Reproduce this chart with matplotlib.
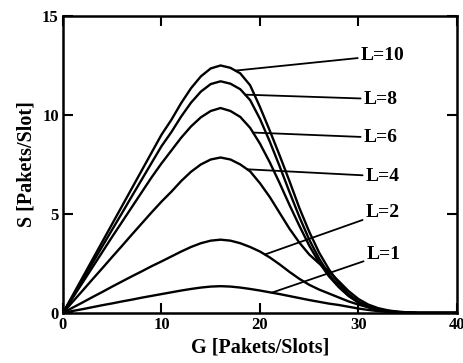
import numpy as np
import matplotlib
matplotlib.use("Agg")
import matplotlib.pyplot as plt

# offered load G [Pakets/Slots]
G = [0, 1, 2, 3, 4, 5, 6, 7, 8, 9, 10, 11, 12, 13, 14, 15, 16, 17, 18, 19,
     20, 21, 22, 23, 24, 25, 26, 27, 28, 29, 30, 31, 32, 33, 34, 35, 36, 38, 40]

# throughput S for each L
S_L1 = [0, 0.10, 0.19, 0.29, 0.39, 0.48, 0.58, 0.67, 0.77, 0.86, 0.95, 1.04, 1.13,
        1.21, 1.28, 1.33, 1.35, 1.33, 1.28, 1.21, 1.13, 1.04, 0.95, 0.85, 0.75,
        0.65, 0.56, 0.47, 0.40, 0.31, 0.22, 0.15, 0.09, 0.05, 0.03, 0.01, 0, 0, 0]
S_L2 = [0, 0.27, 0.53, 0.80, 1.06, 1.33, 1.59, 1.85, 2.10, 2.36, 2.60, 2.85, 3.10,
        3.33, 3.52, 3.65, 3.70, 3.65, 3.52, 3.33, 3.10, 2.80, 2.45, 2.07, 1.72,
        1.42, 1.18, 0.98, 0.78, 0.58, 0.42, 0.28, 0.18, 0.10, 0.05, 0.02, 0, 0, 0]
S_L4 = [0, 0.57, 1.13, 1.70, 2.26, 2.83, 3.39, 3.96, 4.52, 5.08, 5.62, 6.12, 6.66,
        7.13, 7.50, 7.75, 7.85, 7.75, 7.50, 7.15, 6.55, 5.85, 5.05, 4.25, 3.55,
        2.95, 2.50, 2.10, 1.60, 1.10, 0.70, 0.42, 0.24, 0.13, 0.06, 0.03, 0, 0, 0]
S_L6 = [0, 0.77, 1.54, 2.31, 3.08, 3.85, 4.60, 5.35, 6.10, 6.85, 7.55, 8.20, 8.85,
        9.42, 9.88, 10.20, 10.35, 10.20, 9.90, 9.35, 8.55, 7.60, 6.55, 5.45, 4.40,
        3.40, 2.55, 1.85, 1.30, 0.85, 0.52, 0.30, 0.16, 0.08, 0.04, 0.02, 0, 0, 0]
S_L8 = [0, 0.84, 1.68, 2.52, 3.37, 4.21, 5.05, 5.90, 6.74, 7.58, 8.42, 9.13, 9.92,
        10.62, 11.18, 11.56, 11.70, 11.58, 11.30, 10.75, 9.80, 8.65, 7.40, 6.10,
        4.85, 3.70, 2.75, 1.95, 1.35, 0.88, 0.53, 0.30, 0.16, 0.08, 0.04, 0.02, 0, 0, 0]
S_L10 = [0, 0.90, 1.80, 2.70, 3.60, 4.50, 5.40, 6.30, 7.20, 8.10, 9.00, 9.75, 10.60,
         11.35, 11.95, 12.35, 12.50, 12.38, 12.10, 11.50, 10.40, 9.20, 7.95, 6.65,
         5.30, 4.10, 3.05, 2.20, 1.50, 0.95, 0.57, 0.32, 0.17, 0.09, 0.04, 0.02, 0, 0, 0]

labels = ["L=1", "L=2", "L=4", "L=6", "L=8", "L=10"]
series = [S_L1, S_L2, S_L4, S_L6, S_L8, S_L10]
# where each leader line touches its curve (G) and where its label sits (G, S)
leader_G = [21.2, 20.5, 18.7, 19.3, 18.5, 17.5]
label_pos = [(30.8, 2.95), (30.7, 5.05), (30.7, 6.9), (30.5, 8.85), (30.5, 10.8), (30.2, 13.0)]

plt.rcParams["font.family"] = ["Liberation Serif", "DejaVu Serif"]
plt.rcParams["font.weight"] = "bold"

fig = plt.figure(figsize=(4.63, 3.63), dpi=100)
ax = fig.add_axes([0.136, 0.138, 0.851, 0.818])

for s in series:
    ax.plot(G, s, color="black", lw=1.7, solid_joinstyle="round")

for lab, s, gx, (tx, ty) in zip(labels, series, leader_G, label_pos):
    sy = np.interp(gx, G, s)
    ax.annotate(lab, xy=(gx, sy), xytext=(tx, ty), fontsize=14, fontweight="bold",
                va="center", ha="left",
                arrowprops=dict(arrowstyle="-", color="black", lw=1.3,
                                shrinkA=0, shrinkB=0))

ax.set_xlim(0, 40)
ax.set_ylim(0, 15)
ax.set_xticks([0, 10, 20, 30, 40])
ax.set_yticks([0, 5, 10, 15])
ax.tick_params(direction="in", length=7, width=1.5, top=True, right=True,
               labelsize=12, pad=3)
for sp in ax.spines.values():
    sp.set_linewidth(1.8)
ax.set_xlabel("G [Pakets/Slots]", fontsize=14.5, fontweight="bold", labelpad=3)
ax.set_ylabel("S [Pakets/Slot]", fontsize=14.5, fontweight="bold", labelpad=4)

fig.savefig("out.png", dpi=100)
